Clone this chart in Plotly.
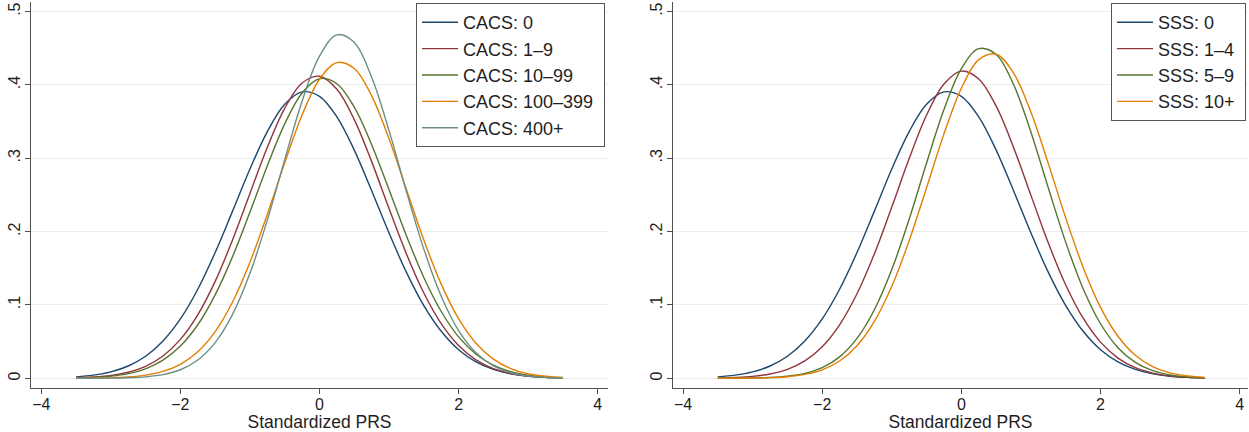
import plotly.graph_objects as go

# ---------------- data ----------------
prs_x = [-3.5, -3.25, -3.0, -2.75, -2.5, -2.25, -2.0, -1.75, -1.5, -1.25, -1.0, -0.75, -0.5, -0.25, 0.0,
         0.25, 0.5, 0.75, 1.0, 1.25, 1.5, 1.75, 2.0, 2.25, 2.5, 2.75, 3.0, 3.25, 3.5]

cacs_labels = ["CACS: 0", "CACS: 1\u20139", "CACS: 10\u201399", "CACS: 100\u2013399", "CACS: 400+"]
cacs_0 = [0.0020, 0.0043, 0.0088, 0.0168, 0.0301, 0.0509, 0.0809, 0.1214, 0.1715, 0.2279, 0.2853, 0.3364,
          0.3735, 0.3904, 0.3844, 0.3564, 0.3111, 0.2558, 0.1980, 0.1444, 0.0991, 0.0641, 0.0390, 0.0224,
          0.0121, 0.0061, 0.0029, 0.0013, 0.0006]
cacs_1_9 = [0.0007, 0.0017, 0.0038, 0.0082, 0.0163, 0.0304, 0.0531, 0.0866, 0.1321, 0.1887, 0.2520, 0.3150,
            0.3681, 0.4025, 0.4118, 0.3940, 0.3527, 0.2954, 0.2314, 0.1696, 0.1163, 0.0746, 0.0447, 0.0251,
            0.0132, 0.0065, 0.0030, 0.0013, 0.0005]
cacs_10_99 = [0.0005, 0.0013, 0.0030, 0.0064, 0.0130, 0.0247, 0.0439, 0.0730, 0.1138, 0.1659, 0.2266, 0.2898,
              0.3469, 0.3890, 0.4084, 0.4015, 0.3696, 0.3185, 0.2571, 0.1943, 0.1375, 0.0911, 0.0565, 0.0328,
              0.0179, 0.0091, 0.0043, 0.0019, 0.0008]
cacs_100_399 = [0.0001, 0.0003, 0.0007, 0.0018, 0.0043, 0.0094, 0.0191, 0.0361, 0.0636, 0.1040, 0.1582, 0.2237,
                0.2939, 0.3591, 0.4077, 0.4304, 0.4223, 0.3851, 0.3265, 0.2573, 0.1885, 0.1284, 0.0813, 0.0478,
                0.0262, 0.0133, 0.0063, 0.0028, 0.0011]
cacs_400 = [0.0000, 0.0001, 0.0002, 0.0007, 0.0020, 0.0050, 0.0117, 0.0249, 0.0486, 0.0871, 0.1431, 0.2157,
            0.2981, 0.3778, 0.4391, 0.4682, 0.4578, 0.4105, 0.3376, 0.2546, 0.1761, 0.1118, 0.0650, 0.0347,
            0.0170, 0.0076, 0.0031, 0.0012, 0.0004]

sss_labels = ["SSS: 0", "SSS: 1\u20134", "SSS: 5\u20139", "SSS: 10+"]
sss_0 = [0.0020, 0.0043, 0.0088, 0.0168, 0.0301, 0.0509, 0.0809, 0.1214, 0.1715, 0.2279, 0.2853, 0.3364,
         0.3735, 0.3904, 0.3844, 0.3564, 0.3111, 0.2558, 0.1980, 0.1444, 0.0991, 0.0641, 0.0390, 0.0224,
         0.0121, 0.0061, 0.0029, 0.0013, 0.0006]
sss_1_4 = [0.0004, 0.0011, 0.0026, 0.0059, 0.0123, 0.0238, 0.0431, 0.0730, 0.1152, 0.1697, 0.2334, 0.2996,
           0.3589, 0.4013, 0.4188, 0.4080, 0.3710, 0.3148, 0.2494, 0.1843, 0.1272, 0.0819, 0.0493, 0.0276,
           0.0145, 0.0071, 0.0032, 0.0014, 0.0005]
sss_5_9 = [0.0000, 0.0001, 0.0004, 0.0011, 0.0028, 0.0066, 0.0145, 0.0292, 0.0544, 0.0935, 0.1482, 0.2170,
           0.2935, 0.3663, 0.4222, 0.4494, 0.4415, 0.4006, 0.3355, 0.2595, 0.1853, 0.1222, 0.0744, 0.0418,
           0.0217, 0.0104, 0.0046, 0.0019, 0.0007]
sss_10 = [0.0000, 0.0001, 0.0003, 0.0009, 0.0022, 0.0053, 0.0116, 0.0236, 0.0445, 0.0776, 0.1254, 0.1877,
          0.2599, 0.3332, 0.3955, 0.4345, 0.4419, 0.4161, 0.3627, 0.2927, 0.2186, 0.1512, 0.0968, 0.0574,
          0.0315, 0.0160, 0.0075, 0.0033, 0.0013]

x_tick_vals = [-4, -2, 0, 2, 4]
x_tick_text = ["\u22124", "\u22122", "0", "2", "4"]
y_tick_vals = [0, 0.1, 0.2, 0.3, 0.4, 0.5]
y_tick_text = ["0", ".1", ".2", ".3", ".4", ".5"]
x_title = "Standardized PRS"

# ---------------- styling ----------------
colors = ["#1a476f", "#90353b", "#55752f", "#e37e00", "#6e8e84"]
FONT = "Liberation Sans, Arial, Helvetica, sans-serif"
TXT = "#1e1e1e"
AX = "#505050"
GRID = "#ececec"
PAD = "\u00a0"  # small right padding inside the legend box

fig = go.Figure()

cacs_series = [cacs_0, cacs_1_9, cacs_10_99, cacs_100_399, cacs_400]
for name, ys, c in zip(cacs_labels, cacs_series, colors):
    fig.add_trace(go.Scatter(x=prs_x, y=ys, name=name + PAD, mode="lines",
                             line=dict(color=c, width=1.4, shape="spline", smoothing=1.0),
                             xaxis="x", yaxis="y", legend="legend", hoverinfo="skip"))

sss_series = [sss_0, sss_1_4, sss_5_9, sss_10]
for name, ys, c in zip(sss_labels, sss_series, colors):
    fig.add_trace(go.Scatter(x=prs_x, y=ys, name=name + PAD, mode="lines",
                             line=dict(color=c, width=1.4, shape="spline", smoothing=1.0),
                             xaxis="x2", yaxis="y2", legend="legend2", hoverinfo="skip"))

W, H = 1249, 432
ydom = [(H - 388) / H, (H - 2) / H]

def xaxis(dom, rng, anchor):
    return dict(domain=dom, range=rng, anchor=anchor, showline=True, linecolor=AX, linewidth=1.3,
                ticks="outside", ticklen=5, tickcolor=AX, tickwidth=1.3, ticklabelstandoff=-3,
                tickvals=x_tick_vals, ticktext=x_tick_text, showgrid=False, zeroline=False,
                tickfont=dict(family=FONT, size=16, color=TXT),
                title=dict(text=x_title, font=dict(family=FONT, size=17.5, color=TXT), standoff=3),
                automargin=False, fixedrange=True)

def yaxis(rng, anchor):
    return dict(domain=ydom, range=rng, anchor=anchor, showline=True, linecolor=AX, linewidth=1.3,
                ticks="outside", ticklen=5, tickcolor=AX, tickwidth=1.3, ticklabelstandoff=-2,
                tickvals=y_tick_vals, ticktext=y_tick_text, tickangle=-90,
                showgrid=True, gridcolor=GRID, gridwidth=1, zeroline=False,
                tickfont=dict(family=FONT, size=16, color=TXT), automargin=False, fixedrange=True)

legend_common = dict(bgcolor="white", bordercolor="#555555", borderwidth=1,
                     font=dict(family=FONT, size=18, color=TXT), yanchor="top", xanchor="left",
                     tracegroupgap=0, itemwidth=36, itemclick=False, itemdoubleclick=False)

fig.update_layout(
    width=W, height=H, margin=dict(l=0, r=0, t=0, b=0),
    paper_bgcolor="white", plot_bgcolor="white",
    font=dict(family=FONT, color=TXT),
    xaxis=xaxis([31 / W, 608 / W], [-4.148, 4.148], "y"),
    yaxis=yaxis([-0.0132, 0.513], "x"),
    xaxis2=xaxis([673 / W, 1248 / W], [-4.144, 4.119], "y2"),
    yaxis2=yaxis([-0.0132, 0.513], "x2"),
    legend=dict(x=416 / W, y=(H - 3) / H, **legend_common),
    legend2=dict(x=1111 / W, y=(H - 3) / H, **legend_common),
    showlegend=True,
)

fig.write_html("out.html", config={"displayModeBar": False},
               post_script="document.body.style.margin='0px';")
